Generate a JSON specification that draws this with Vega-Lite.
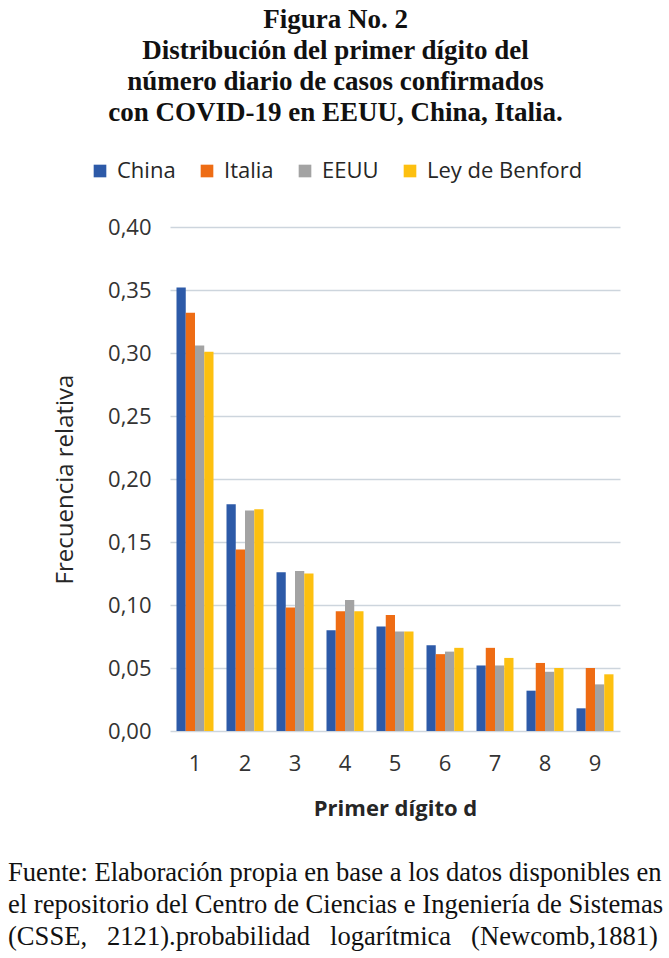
{
  "$schema": "https://vega.github.io/schema/vega-lite/v6.json",
  "padding": {"left": 8, "top": 6, "right": 5, "bottom": 5},
  "background": "white",
  "title": {
    "text": ["Figura No. 2", "Distribución del primer dígito del", "número diario de casos confirmados", "con COVID-19 en EEUU, China, Italia."],
    "font": "Liberation Serif",
    "fontSize": 27,
    "fontWeight": "bold",
    "lineHeight": 31,
    "color": "#111111",
    "anchor": "middle",
    "offset": 33
  },
  "config": {
    "locale": {"number": {"decimal": ",", "thousands": ".", "grouping": [3], "currency": ["", " €"]}},
    "view": {"stroke": null},
    "font": "Open Sans"
  },
  "vconcat": [
    {
      "width": 450,
      "height": 504,
      "title": {
        "text": ["Fuente: Elaboración propia en base a los datos disponibles en", "el repositorio del Centro de Ciencias e Ingeniería de Sistemas", "(CSSE,\u00a0\u00a0\u00a02121).probabilidad\u00a0\u00a0\u00a0logarítmica\u00a0\u00a0\u00a0(Newcomb,1881)"],
        "orient": "bottom",
        "anchor": "start",
        "frame": "group",
        "dx": -162,
        "offset": 41,
        "font": "Liberation Serif",
        "fontSize": 26.6,
        "fontWeight": "normal",
        "lineHeight": 32,
        "color": "#111111"
      },
      "data": {
        "values": [
          {"digito": "1", "serie": "China", "frecuencia": 0.352},
          {"digito": "1", "serie": "Italia", "frecuencia": 0.332},
          {"digito": "1", "serie": "EEUU", "frecuencia": 0.306},
          {"digito": "1", "serie": "Ley de Benford", "frecuencia": 0.301},
          {"digito": "2", "serie": "China", "frecuencia": 0.180},
          {"digito": "2", "serie": "Italia", "frecuencia": 0.144},
          {"digito": "2", "serie": "EEUU", "frecuencia": 0.175},
          {"digito": "2", "serie": "Ley de Benford", "frecuencia": 0.176},
          {"digito": "3", "serie": "China", "frecuencia": 0.126},
          {"digito": "3", "serie": "Italia", "frecuencia": 0.098},
          {"digito": "3", "serie": "EEUU", "frecuencia": 0.127},
          {"digito": "3", "serie": "Ley de Benford", "frecuencia": 0.125},
          {"digito": "4", "serie": "China", "frecuencia": 0.080},
          {"digito": "4", "serie": "Italia", "frecuencia": 0.095},
          {"digito": "4", "serie": "EEUU", "frecuencia": 0.104},
          {"digito": "4", "serie": "Ley de Benford", "frecuencia": 0.095},
          {"digito": "5", "serie": "China", "frecuencia": 0.083},
          {"digito": "5", "serie": "Italia", "frecuencia": 0.092},
          {"digito": "5", "serie": "EEUU", "frecuencia": 0.079},
          {"digito": "5", "serie": "Ley de Benford", "frecuencia": 0.079},
          {"digito": "6", "serie": "China", "frecuencia": 0.068},
          {"digito": "6", "serie": "Italia", "frecuencia": 0.061},
          {"digito": "6", "serie": "EEUU", "frecuencia": 0.063},
          {"digito": "6", "serie": "Ley de Benford", "frecuencia": 0.066},
          {"digito": "7", "serie": "China", "frecuencia": 0.052},
          {"digito": "7", "serie": "Italia", "frecuencia": 0.066},
          {"digito": "7", "serie": "EEUU", "frecuencia": 0.052},
          {"digito": "7", "serie": "Ley de Benford", "frecuencia": 0.058},
          {"digito": "8", "serie": "China", "frecuencia": 0.032},
          {"digito": "8", "serie": "Italia", "frecuencia": 0.054},
          {"digito": "8", "serie": "EEUU", "frecuencia": 0.047},
          {"digito": "8", "serie": "Ley de Benford", "frecuencia": 0.050},
          {"digito": "9", "serie": "China", "frecuencia": 0.018},
          {"digito": "9", "serie": "Italia", "frecuencia": 0.050},
          {"digito": "9", "serie": "EEUU", "frecuencia": 0.037},
          {"digito": "9", "serie": "Ley de Benford", "frecuencia": 0.045}
        ]
      },
      "mark": {"type": "bar"},
      "encoding": {
        "x": {
          "field": "digito",
          "type": "nominal",
          "sort": ["1", "2", "3", "4", "5", "6", "7", "8", "9"],
          "scale": {"paddingInner": 0.26, "paddingOuter": 0.13},
          "axis": {
            "title": "Primer dígito d",
            "titleFont": "Open Sans",
            "titleFontSize": 22,
            "titleFontWeight": "bold",
            "titleColor": "#262626",
            "titlePadding": 24,
            "labelFont": "Open Sans",
            "labelFontSize": 22,
            "labelColor": "#333333",
            "labelAngle": 0,
            "labelPadding": 22,
            "domain": false,
            "ticks": false
          }
        },
        "xOffset": {
          "field": "serie",
          "type": "nominal",
          "sort": ["China", "Italia", "EEUU", "Ley de Benford"],
          "scale": {"paddingInner": 0, "paddingOuter": 0}
        },
        "y": {
          "field": "frecuencia",
          "type": "quantitative",
          "scale": {"domain": [0, 0.4], "nice": false},
          "axis": {
            "title": "Frecuencia relativa",
            "titleFont": "Open Sans",
            "titleFontSize": 24,
            "titleFontWeight": "normal",
            "titleColor": "#262626",
            "titlePadding": 30,
            "labelFont": "Open Sans",
            "labelFontSize": 22,
            "labelColor": "#333333",
            "labelPadding": 19,
            "values": [0, 0.05, 0.1, 0.15, 0.2, 0.25, 0.3, 0.35, 0.4],
            "format": ".2f",
            "domain": false,
            "ticks": false,
            "grid": true,
            "gridColor": "#cdd5dd",
            "gridWidth": 1.5
          }
        },
        "color": {
          "field": "serie",
          "type": "nominal",
          "sort": ["China", "Italia", "EEUU", "Ley de Benford"],
          "scale": {
            "domain": ["China", "Italia", "EEUU", "Ley de Benford"],
            "range": ["#2D5AA8", "#EE6C14", "#A3A3A3", "#FDC010"]
          },
          "legend": {
            "title": null,
            "orient": "none",
            "direction": "horizontal",
            "legendX": -81,
            "legendY": -67,
            "symbolType": "square",
            "symbolSize": 160,
            "symbolStrokeWidth": 0,
            "labelFont": "Open Sans",
            "labelFontSize": 22,
            "labelColor": "#262626",
            "labelOffset": 6,
            "columnPadding": 20
          }
        }
      }
    }
  ]
}
